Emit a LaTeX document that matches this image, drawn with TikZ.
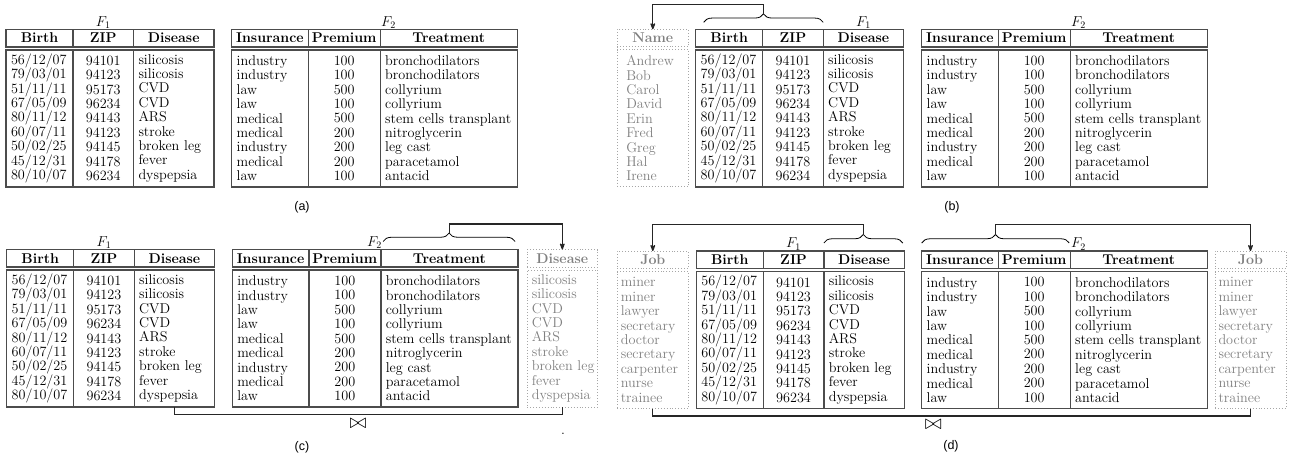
\documentclass[tikz,border=0pt]{standalone}
\usepackage{amsmath}
\usepackage{amssymb}
\usepackage{fontspec}
\usepackage{tikz}
\usetikzlibrary{arrows.meta, positioning, calc, decorations.pathreplacing}

\newfontfamily\capfont{Liberation Sans}
\newcommand{\tabfont}{\fontsize{14.2}{14.4}\selectfont}

% column contents
\newcommand{\birthvals}{56/12/07\\79/03/01\\51/11/11\\67/05/09\\80/11/12\\60/07/11\\50/02/25\\45/12/31\\80/10/07}
\newcommand{\zipvals}{94101\\94123\\95173\\96234\\94143\\94123\\94145\\94178\\96234}
\newcommand{\diseasevals}{silicosis\\silicosis\\CVD\\CVD\\ARS\\stroke\\broken~leg\\fever\\dyspepsia}
\newcommand{\insvals}{industry\\industry\\law\\law\\medical\\medical\\industry\\medical\\law}
\newcommand{\premvals}{100\\100\\500\\100\\500\\200\\200\\200\\100}
\newcommand{\treatvals}{bronchodilators\\bronchodilators\\collyrium\\collyrium\\stem~cells~transplant\\nitroglycerin\\leg cast\\paracetamol\\antacid}
\newcommand{\namevals}{Andrew\\Bob\\Carol\\David\\Erin\\Fred\\Greg\\Hal\\Irene}
\newcommand{\jobvals}{miner\\miner\\lawyer\\secretary\\doctor\\secretary\\carpenter\\nurse\\trainee}

\begin{document}
\begin{tikzpicture}[x=1pt,y=-1pt,>={Stealth[round]},
	every node/.style={font=\tabfont, outer sep=0pt},
	hd/.style={draw=black!70, line width=1.4pt, minimum width=#1, minimum height=17.5pt, inner sep=0pt, font=\tabfont\bfseries},
	val/.style={draw=black!70, line width=1.4pt, text width=#1, minimum height=137pt, inner xsep=5pt, inner ysep=0pt, align=left},
	valc/.style={val=#1, align=center},
	ghd/.style={hd=#1, draw=black!35, line width=0.9pt, dotted, text=black!50},
	gval/.style={val=#1, draw=black!35, line width=0.9pt, dotted, text=black!50},
	brace/.style={decorate, decoration={brace, amplitude=8.5pt}, line width=0.8pt},
	link/.style={draw=black!85, line width=1.2pt},
	joinsym/.style={font=\fontsize{21}{21}\selectfont},
	subcap/.style={font=\capfont\fontsize{12.5}{14}\selectfont}]

	\useasboundingbox (0,0) rectangle (1297,461);

	% (a)
	\node (aBirth) [hd=67pt, anchor=north west] at (6,29.3) {Birth};
	\node (aZip) [hd=60.5pt, right=0pt of aBirth] {ZIP};
	\node (aDis) [hd=80.5pt, right=0pt of aZip] {Disease};
	\node (aBirthV) [val=57pt, below=3pt of aBirth] {\birthvals};
	\node (aZipV) [valc=50.5pt, below=3pt of aZip] {\zipvals};
	\node (aDisV) [val=70.5pt, below=3pt of aDis] {\diseasevals};
	\node (aF1) [above=0pt of aZip, inner sep=1pt] {$F_1$};

	\node (aIns) [hd=76.5pt, anchor=north west] at (231.7,29.3) {Insurance};
	\node (aPrem) [hd=72pt, right=0pt of aIns] {Premium};
	\node (aTreat) [hd=137pt, right=0pt of aPrem] {Treatment};
	\node (aInsV) [val=66.5pt, below=3pt of aIns] {\insvals};
	\node (aPremV) [valc=62pt, below=3pt of aPrem] {\premvals};
	\node (aTreatV) [val=127pt, below=3pt of aTreat] {\treatvals};
	\node (aF2) [above right=0pt and 0pt of aTreat.north west, inner sep=1pt] {$F_2$};
	\node (aCap) [subcap] at (302,207) {(a)};

	% (b)
	\node (bName) [ghd=71pt, anchor=north west] at (617.3,29.3) {Name};
	\node (bNameV) [gval=53pt, inner xsep=9pt, below=3pt of bName] {\namevals};

	\node (bBirth) [hd=67pt, anchor=north west] at (695.7,29.3) {Birth};
	\node (bZip) [hd=60.5pt, right=0pt of bBirth] {ZIP};
	\node (bDis) [hd=80.5pt, right=0pt of bZip] {Disease};
	\node (bBirthV) [val=57pt, below=3pt of bBirth] {\birthvals};
	\node (bZipV) [valc=50.5pt, below=3pt of bZip] {\zipvals};
	\node (bDisV) [val=70.5pt, below=3pt of bDis] {\diseasevals};
	\node (bF1) [above=0pt of bDis, inner sep=1pt] {$F_1$};

	\node (bIns) [hd=76.5pt, anchor=north west] at (921.7,29.3) {Insurance};
	\node (bPrem) [hd=72pt, right=0pt of bIns] {Premium};
	\node (bTreat) [hd=137pt, right=0pt of bPrem] {Treatment};
	\node (bInsV) [val=66.5pt, below=3pt of bIns] {\insvals};
	\node (bPremV) [valc=62pt, below=3pt of bPrem] {\premvals};
	\node (bTreatV) [val=127pt, below=3pt of bTreat] {\treatvals};
	\node (bF2) [above right=0pt and 0pt of bTreat.north west, inner sep=1pt] {$F_2$};
	\node (bCap) [subcap] at (952,207) {(b)};

	\coordinate (bL) at ($(bBirth.north west)+(8,-7)$);
	\coordinate (bR) at ($(bZip.north east)+(0,-7)$);
	\draw [brace] (bL) -- (bR);
	\coordinate (bTip) at ($(bL)!0.5!(bR)+(0,-8.5)$);
	\draw [link, ->] (bTip) -- ++(0,-9) -| (bName.north);

	% (c)
	\node (cBirth) [hd=67pt, anchor=north west] at (6.7,249.5) {Birth};
	\node (cZip) [hd=60.5pt, right=0pt of cBirth] {ZIP};
	\node (cDis) [hd=80.5pt, right=0pt of cZip] {Disease};
	\node (cBirthV) [val=57pt, below=3pt of cBirth] {\birthvals};
	\node (cZipV) [valc=50.5pt, below=3pt of cZip] {\zipvals};
	\node (cDisV) [val=70.5pt, below=3pt of cDis] {\diseasevals};
	\node (cF1) [above=0pt of cZip, inner sep=1pt] {$F_1$};

	\node (cIns) [hd=76.5pt, anchor=north west] at (232.3,249.5) {Insurance};
	\node (cPrem) [hd=72pt, right=0pt of cIns] {Premium};
	\node (cTreat) [hd=137pt, right=0pt of cPrem] {Treatment};
	\node (cInsV) [val=66.5pt, below=3pt of cIns] {\insvals};
	\node (cPremV) [valc=62pt, below=3pt of cPrem] {\premvals};
	\node (cTreatV) [val=127pt, below=3pt of cTreat] {\treatvals};
	\node (cF2) [above left=0pt and -2pt of cTreat.north west, inner sep=1pt] {$F_2$};

	\node (cDisG) [ghd=70pt, anchor=north west] at (527.3,249.5) {Disease};
	\node (cDisGV) [gval=61pt, inner xsep=4.5pt, below=3pt of cDisG] {\diseasevals};
	\node (cCap) [subcap] at (302,447) {(c)};

	\coordinate (cL) at ($(cTreat.north west)+(2.3,-8)$);
	\coordinate (cR) at ($(cTreat.north east)+(-2.7,-8)$);
	\draw [brace] (cL) -- (cR);
	\coordinate (cTip) at ($(cL)!0.5!(cR)+(0,-8.5)$);
	\draw [link, ->] (cTip) -- ++(0,-9) -| (cDisG.north);
	\draw [link] (cDisV.south) -- ++(0,7.5) -| (cDisGV.south);
	\node (cJoin) [joinsym] at (358,424) {$\bowtie$};
	\node (cDot) at (563,434) {.};

	% (d)
	\node (dJobL) [ghd=71pt, anchor=north west] at (617.3,251) {Job};
	\node (dJobLV) [gval=64pt, inner xsep=3.5pt, below=3pt of dJobL] {\jobvals};

	\node (dBirth) [hd=67pt, anchor=north west] at (696.3,251) {Birth};
	\node (dZip) [hd=60.5pt, right=0pt of dBirth] {ZIP};
	\node (dDis) [hd=80.5pt, right=0pt of dZip] {Disease};
	\node (dBirthV) [val=57pt, below=3pt of dBirth] {\birthvals};
	\node (dZipV) [valc=50.5pt, below=3pt of dZip] {\zipvals};
	\node (dDisV) [val=70.5pt, below=3pt of dDis] {\diseasevals};
	\node (dF1) [above=0pt of dZip, inner sep=1pt] {$F_1$};

	\node (dIns) [hd=76.5pt, anchor=north west] at (921.7,251) {Insurance};
	\node (dPrem) [hd=72pt, right=0pt of dIns] {Premium};
	\node (dTreat) [hd=137pt, right=0pt of dPrem] {Treatment};
	\node (dInsV) [val=66.5pt, below=3pt of dIns] {\insvals};
	\node (dPremV) [valc=62pt, below=3pt of dPrem] {\premvals};
	\node (dTreatV) [val=127pt, below=3pt of dTreat] {\treatvals};
	\node (dF2) [above right=0pt and 0pt of dTreat.north west, inner sep=1pt] {$F_2$};

	\node (dJobR) [ghd=71pt, anchor=north west] at (1215,251) {Job};
	\node (dJobRV) [gval=64pt, inner xsep=3.5pt, below=3pt of dJobR] {\jobvals};
	\node (dCap) [subcap] at (951,446) {(d)};

	\coordinate (dL) at ($(dDis.north west)+(0,-8)$);
	\coordinate (dR) at ($(dDis.north east)+(-1.5,-8)$);
	\draw [brace] (dL) -- (dR);
	\coordinate (dTip) at ($(dL)!0.5!(dR)+(0,-8.5)$);
	\draw [link, ->] (dTip) -- ++(0,-10) -| (dJobL.north);
	\coordinate (dL2) at ($(dIns.north west)+(0,-8)$);
	\coordinate (dR2) at ($(dPrem.north east)+(-1,-8)$);
	\draw [brace] (dL2) -- (dR2);
	\coordinate (dTip2) at ($(dL2)!0.5!(dR2)+(0,-8.5)$);
	\draw [link, ->] (dTip2) -- ++(0,-10) -| (dJobR.north);
	\draw [link] (dJobLV.south) -- ++(0,7.5) -| (dJobRV.south);
	\node (dJoin) [joinsym] at (933.3,424.3) {$\bowtie$};

\end{tikzpicture}
\end{document}
